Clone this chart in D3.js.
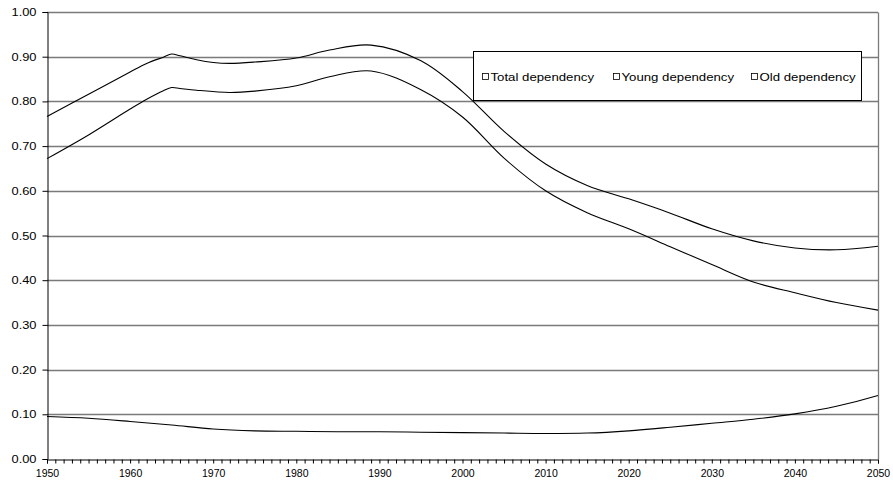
<!DOCTYPE html>
<html>
<head>
<meta charset="utf-8">
<script src="https://cdn.jsdelivr.net/npm/d3@7/dist/d3.min.js"></script>
<style>
  body { margin: 0; background: #fff; }
  text { font-family: "Liberation Sans", Arial, sans-serif; }
</style>
</head>
<body>
<svg id="chart" width="893" height="483"></svg>
<script>
// values
var totalYears = [1950, 1955, 1960, 1962, 1964, 1965, 1966, 1968, 1970, 1972, 1975, 1980, 1984, 1989,
                  1995, 2000, 2005, 2010, 2015, 2020, 2025, 2030, 2035, 2040, 2045, 2050];
var total = [0.766, 0.816, 0.866, 0.885, 0.899, 0.906, 0.902, 0.893, 0.887, 0.885, 0.888, 0.897, 0.915, 0.926,
             0.891, 0.822, 0.733, 0.660, 0.612, 0.582, 0.550, 0.515, 0.488, 0.472, 0.468, 0.476];
var youngYears = [1950, 1955, 1960, 1962, 1964, 1965, 1966, 1968, 1972, 1975, 1980, 1984, 1989,
                  1995, 2000, 2005, 2010, 2015, 2020, 2025, 2030, 2035, 2040, 2045, 2050];
var young = [0.672, 0.725, 0.783, 0.805, 0.824, 0.831, 0.829, 0.825, 0.820, 0.823, 0.835, 0.855, 0.868,
             0.826, 0.765, 0.673, 0.600, 0.551, 0.515, 0.475, 0.435, 0.396, 0.372, 0.350, 0.333];
var oldYears = [1950, 1955, 1960, 1965, 1970, 1975, 1980, 1985, 1990, 1995, 2000,
                2005, 2010, 2015, 2020, 2025, 2030, 2035, 2040, 2045, 2050];
var old = [0.095, 0.091, 0.084, 0.076, 0.067, 0.063, 0.062, 0.061, 0.061, 0.060, 0.059,
           0.058, 0.057, 0.058, 0.063, 0.071, 0.080, 0.089, 0.101, 0.118, 0.142];
var seriesNames = ["Total dependency", "Young dependency", "Old dependency"];
var yTicks = [0, 0.1, 0.2, 0.3, 0.4, 0.5, 0.6, 0.7, 0.8, 0.9, 1.0];
var xTicks = [1950, 1960, 1970, 1980, 1990, 2000, 2010, 2020, 2030, 2040, 2050];

var svg = d3.select("#chart");
var mLeft = 47, mRight = 878, mTop = 12, mBottom = 459;

var x = d3.scaleLinear().domain([1950, 2050]).range([mLeft, mRight]);
var y = d3.scaleLinear().domain([0, 1]).range([mBottom, mTop]);

// gridlines
svg.append("g").selectAll("line")
  .data(yTicks.slice(1))
  .enter().append("line")
  .attr("x1", mLeft).attr("x2", mRight)
  .attr("y1", function(d) { return Math.round(y(d)) + 0.5; })
  .attr("y2", function(d) { return Math.round(y(d)) + 0.5; })
  .attr("stroke", "#7a7a7a").attr("stroke-width", 1.3);

// right border
svg.append("line")
  .attr("x1", mRight + 0.5).attr("x2", mRight + 0.5)
  .attr("y1", Math.round(y(1)) + 0.5).attr("y2", mBottom)
  .attr("stroke", "#7a7a7a").attr("stroke-width", 1.3);

// lines
var line = d3.line()
  .x(function(d) { return x(d[0]); })
  .y(function(d) { return y(d[1]); })
  .curve(d3.curveCatmullRom.alpha(0.5));

var series = [d3.zip(totalYears, total), d3.zip(youngYears, young), d3.zip(oldYears, old)];

svg.append("g").selectAll("path")
  .data(series)
  .enter().append("path")
  .attr("d", line)
  .attr("fill", "none")
  .attr("stroke", "#000")
  .attr("stroke-width", 1.1);

// y axis
var gy = svg.append("g")
  .attr("transform", "translate(" + (mLeft + 0.5) + ",0)")
  .call(d3.axisLeft(y).tickValues(yTicks).tickSize(5).tickPadding(6).tickFormat(d3.format(".2f")));

gy.selectAll(".tick text")
  .attr("font-size", "11px")
  .attr("textLength", 25)
  .attr("lengthAdjust", "spacingAndGlyphs");

// x axis, one small tick per year
svg.append("g")
  .attr("transform", "translate(0," + (mBottom + 0.5) + ")")
  .call(d3.axisBottom(x).tickValues(d3.range(1950, 2051, 1)).tickSize(4).tickFormat(""));

var gx = svg.append("g")
  .attr("transform", "translate(0," + (mBottom + 0.5) + ")")
  .call(d3.axisBottom(x).tickValues(xTicks).tickSize(0).tickPadding(10).tickFormat(d3.format("d")))
  .call(function(g) { g.select(".domain").remove(); });

gx.selectAll(".tick text").attr("font-size", "10.5px");

svg.selectAll(".domain").attr("stroke", "#000");
svg.selectAll(".tick line").attr("stroke", "#000");
svg.selectAll(".tick text").attr("fill", "#000");

// legend
var legend = svg.append("g");
legend.append("rect")
  .attr("x", 473.5).attr("y", 51.5)
  .attr("width", 388).attr("height", 49)
  .attr("fill", "#fff").attr("stroke", "#000").attr("stroke-width", 1);

var legendX = [482, 613, 751];
var items = legend.selectAll("g.item")
  .data(seriesNames)
  .enter().append("g")
  .attr("class", "item")
  .attr("transform", function(d, i) { return "translate(" + legendX[i] + ",77)"; });

items.append("rect")
  .attr("x", 0.5).attr("y", -3.5)
  .attr("width", 6).attr("height", 6)
  .attr("fill", "#fff").attr("stroke", "#000").attr("stroke-width", 0.8);

items.append("text")
  .attr("x", 8.5)
  .attr("y", 4)
  .attr("font-size", "11px")
  .text(function(d) { return d; })
  .each(function() {
    var w = this.getComputedTextLength();
    d3.select(this).attr("textLength", w * 1.2).attr("lengthAdjust", "spacingAndGlyphs");
  });
</script>
</body>
</html>
